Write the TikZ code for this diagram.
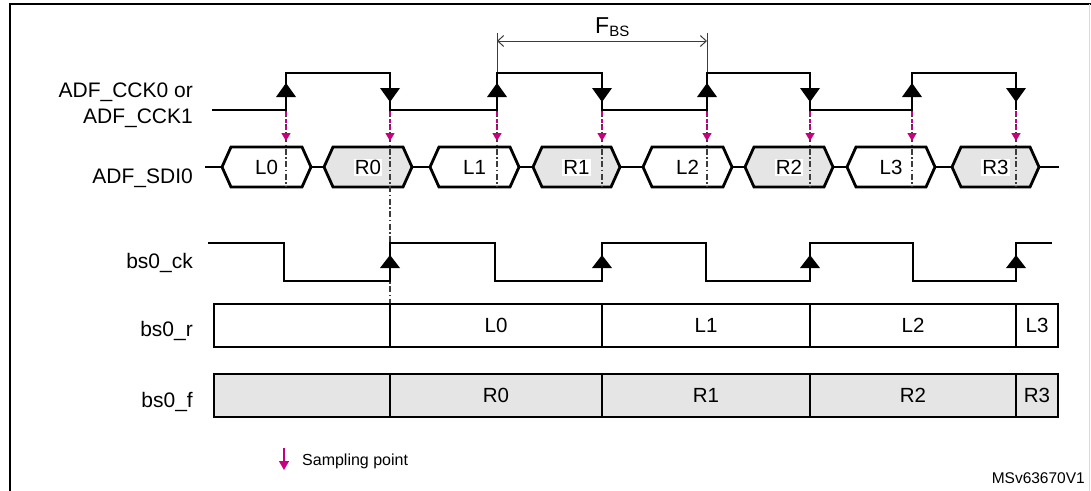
\documentclass[tikz,border=0pt]{standalone}
\usepackage{fontspec}
\setmainfont{Liberation Sans}
\usetikzlibrary{arrows.meta}
\definecolor{stmag}{RGB}{200,0,125}
\definecolor{boxgray}{RGB}{229,229,229}
\definecolor{ddgray}{RGB}{60,60,60}
\begin{document}
\begin{tikzpicture}[x=1pt,y=-1pt,
  sig/.style={line width=2pt, line join=miter},
  hexa/.style={line width=2.8pt, line join=miter},
  boxline/.style={line width=2pt},
  lab/.style={font=\fontsize{21}{25}\selectfont, inner sep=0pt},
  cell/.style={font=\fontsize{20.5}{24}\selectfont, inner sep=1pt},
  dd/.style={ddgray, line width=1.1pt, dash pattern=on 6pt off 2.5pt on 1.5pt off 2.5pt},
  samp/.style={stmag, line width=1.3pt, dash pattern=on 4pt off 3pt, -{Triangle[length=8pt,width=9pt]}},
  dim/.style={ddgray, line width=1pt},
]
\useasboundingbox (0,0) rectangle (1091,490);
% frame
\draw[line width=2pt] (9.5,492) -- (9.5,3.5) -- (1091,3.5);
\draw[line width=1pt, black!15] (1089.5,3.5) -- (1089.5,492);

% signal labels
\node[lab, anchor=base east] (lcck0) at (193,97) {ADF\_CCK0 or};
\node[lab, anchor=base east] (lcck1) at (193,123) {ADF\_CCK1};
\node[lab, anchor=base east] (lsdi) at (193,183) {ADF\_SDI0};
\node[lab, anchor=base east] (lbsck) at (193,268) {bs0\_ck};
\node[lab, anchor=base east] (lbsr) at (193,336) {bs0\_r};
\node[lab, anchor=base east] (lbsf) at (193,407) {bs0\_f};

% F_BS dimension
\draw[dim] (497,33) -- (497,73);
\draw[dim] (707,33) -- (707,73);
\draw[dim, {Straight Barb[length=6pt,width=11pt]}-{Straight Barb[length=6pt,width=11pt]}] (497,41) -- (707,41);
\node[inner sep=0pt, anchor=base west] (fbs) at (595,33) {\fontsize{23}{27}\selectfont F\raisebox{-3.5pt}{\fontsize{15}{17}\selectfont BS}};

% ADF_CCK clock
\draw[sig] (212,110) -- (286,110) -- (286,73) -- (390,73) -- (390,110) -- (497,110) -- (497,73) -- (602,73) -- (602,110)
  -- (707,110) -- (707,73) -- (810,73) -- (810,110) -- (912,110) -- (912,73) -- (1016,73) -- (1016,110);
\foreach \x in {286,497,707,912} \fill (\x,83) -- (\x-10,97) -- (\x+10,97) -- cycle;
\foreach \x in {390,602,810,1016} \fill (\x-10,88) -- (\x+10,88) -- (\x,102) -- cycle;

% ADF_SDI0 hexagons
\foreach \a/\b in {205/222,311/324,412/430,519/533,620/643,732/745,833/847,935/952,1039/1059}
  \draw[hexa] (\a,167) -- (\b,167);
\foreach \a/\b/\n/\f in {222/311/L0/white,324/412/R0/boxgray,430/519/L1/white,533/620/R1/boxgray,643/732/L2/white,745/833/R2/boxgray,847/935/L3/white,952/1039/R3/boxgray}{
  \draw[hexa, fill=\f] (\a,167) -- (\a+9,147) -- (\b-9,147) -- (\b,167) -- (\b-9,187) -- (\a+9,187) -- cycle;
  \node[cell, fill=white] (h\n) at ({(\a+\b)/2},167.5) {\n};
}

% sampling lines
\foreach \x in {286,497,602,707,810,912,1016} \draw[dd] (\x,111) -- (\x,187);
\draw[dd] (390,111) -- (390,304);
\foreach \x in {286,390,497,602,707,810,912,1016} \draw[samp] (\x,112) -- (\x,141);

% bs0_ck
\draw[sig] (208,243) -- (284,243) -- (284,281) -- (390,281) -- (390,243) -- (495,243) -- (495,281) -- (602,281) -- (602,243)
  -- (706,243) -- (706,281) -- (810,281) -- (810,243) -- (913,243) -- (913,281) -- (1016,281) -- (1016,243) -- (1052,243);
\foreach \x in {390,602,810,1016} \fill (\x,255) -- (\x-10,268) -- (\x+10,268) -- cycle;

% bs0_r
\draw[boxline] (214,304) rectangle (1058,347);
\foreach \x in {390,602,810,1016} \draw[boxline] (\x,304) -- (\x,347);
\node[cell] (rL0) at (496,325.5) {L0};
\node[cell] (rL1) at (706,325.5) {L1};
\node[cell] (rL2) at (913,325.5) {L2};
\node[cell] (rL3) at (1037,325.5) {L3};

% bs0_f
\draw[boxline, fill=boxgray] (214,374) rectangle (1058,417);
\foreach \x in {390,602,810,1016} \draw[boxline] (\x,374) -- (\x,417);
\node[cell] (fR0) at (496,395.5) {R0};
\node[cell] (fR1) at (706,395.5) {R1};
\node[cell] (fR2) at (913,395.5) {R2};
\node[cell] (fR3) at (1037,395.5) {R3};

% legend
\coordinate (lgA) at (284,448);
\coordinate (lgB) at (284,470);
\draw[stmag, line width=1.3pt, -{Triangle[length=9pt,width=10pt]}] (lgA) -- (lgB);
\node[inner sep=0pt, anchor=base west, font=\fontsize{16}{19}\selectfont] (lgtxt) at (302,465) {Sampling point};
\node[inner sep=0pt, anchor=base east, font=\fontsize{15.5}{18}\selectfont] (code) at (1085,483) {MSv63670V1};
\end{tikzpicture}
\end{document}
